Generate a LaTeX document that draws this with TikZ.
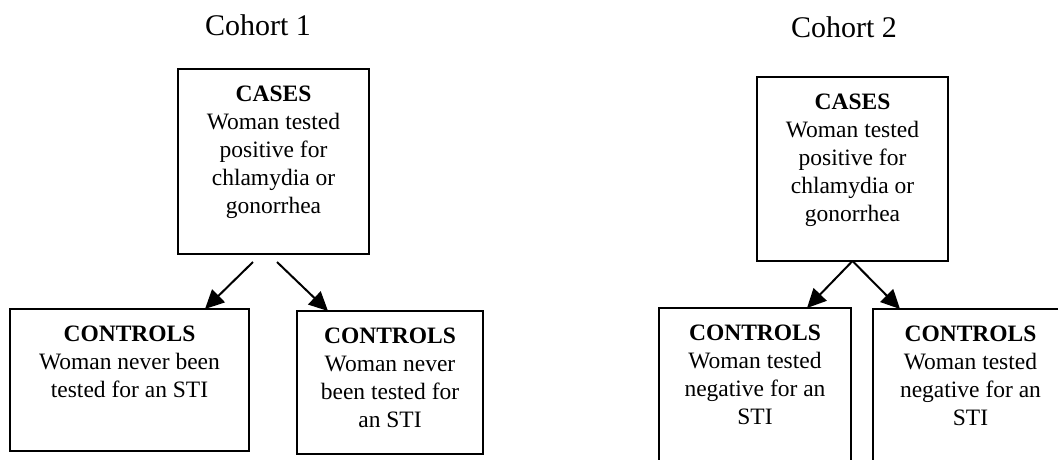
\documentclass[tikz,border=0pt]{standalone}
\usepackage{fontspec}
\setmainfont{Liberation Serif}
\usetikzlibrary{arrows.meta}
\begin{document}
\begin{tikzpicture}[x=1pt,y=-1pt,
  box/.style={draw, line width=2pt, rectangle, anchor=north west, inner sep=0pt, outer sep=0pt},
  boxtext/.style={anchor=north, inner sep=0pt, align=center, font=\fontsize{23.5}{28}\selectfont},
  title/.style={anchor=base, inner sep=0pt, font=\fontsize{30}{36}\selectfont},
  arr/.style={line width=2pt, -{Triangle[length=19pt,width=18pt]}}]
\clip (0,0) rectangle (1058,459);
\fill[white] (0,0) rectangle (1058,459);
% titles
\node[title] (h1) at (258,35) {Cohort 1};
\node[title] (h2) at (844,37) {Cohort 2};
% cohort 1
\node[box, minimum width=191pt, minimum height=185pt] (c1) at (178,69) {};
\node[boxtext] (c1t) at ([yshift=-17pt]c1.north) {\textbf{CASES}\\Woman tested\\positive for\\chlamydia or\\gonorrhea};
\node[box, minimum width=239pt, minimum height=142pt] (l1) at (10,309) {};
\node[boxtext] (l1t) at ([yshift=-17pt]l1.north) {\textbf{CONTROLS}\\Woman never been\\tested for an STI};
\node[box, minimum width=186pt, minimum height=143pt] (r1) at (297,311) {};
\node[boxtext] (r1t) at ([yshift=-17pt]r1.north) {\textbf{CONTROLS}\\Woman never\\been tested for\\an STI};
\coordinate (s1a) at (253,262);
\coordinate (s1b) at (277,262);
\coordinate (e1a) at (205,309);
\coordinate (e1b) at (328,311);
\draw[arr] (s1a) -- (e1a);
\draw[arr] (s1b) -- (e1b);
% cohort 2
\node[box, minimum width=191pt, minimum height=184pt] (c2) at (757,77) {};
\node[boxtext] (c2t) at ([yshift=-17pt]c2.north) {\textbf{CASES}\\Woman tested\\positive for\\chlamydia or\\gonorrhea};
\node[box, minimum width=192pt, minimum height=180pt] (l2) at (659,308) {};
\node[boxtext] (l2t) at ([yshift=-17pt]l2.north) {\textbf{CONTROLS}\\Woman tested\\negative for an\\STI};
\node[box, minimum width=195pt, minimum height=180pt] (r2) at (873,309) {};
\node[boxtext] (r2t) at ([yshift=-17pt]r2.north) {\textbf{CONTROLS}\\Woman tested\\negative for an\\STI};
\coordinate (e2a) at (807,308);
\coordinate (e2b) at (900,309);
\draw[arr] (c2.south) -- (e2a);
\draw[arr] (c2.south) -- (e2b);
\end{tikzpicture}
\end{document}
